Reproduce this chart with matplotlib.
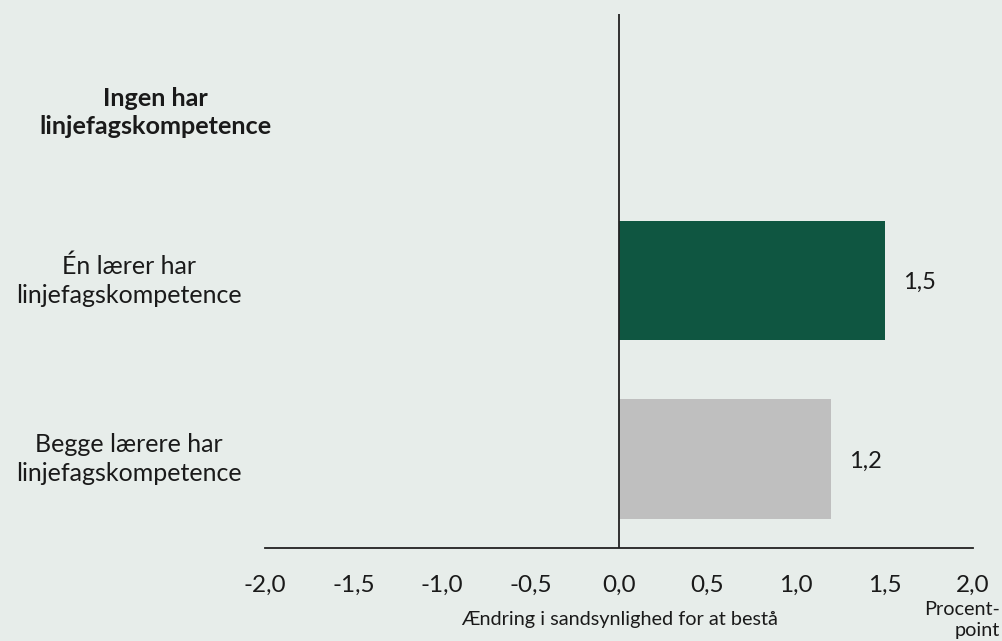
import matplotlib
matplotlib.use("Agg")
import matplotlib.pyplot as plt
from matplotlib.transforms import blended_transform_factory

plt.rcParams['font.family'] = ['Lato', 'DejaVu Sans']

categories = ["Ingen har\nlinjefagskompetence",
              "Én lærer har\nlinjefagskompetence",
              "Begge lærere har\nlinjefagskompetence"]
values = [None, 1.5, 1.2]
value_labels = [None, "1,5", "1,2"]
bold_flags = [True, False, False]
bar_colors = [None, "#0F5641", "#BFBFBF"]
xticks = [-2.0, -1.5, -1.0, -0.5, 0.0, 0.5, 1.0, 1.5, 2.0]
xtick_labels = ["-2,0", "-1,5", "-1,0", "-0,5", "0,0", "0,5", "1,0", "1,5", "2,0"]

bg = "#E7EDEA"
txt = "#1A1A1A"

W, H = 1002, 641
fig = plt.figure(figsize=(W/100, H/100), dpi=100, facecolor=bg)
ax = fig.add_axes([265/W, (H-548)/H, (973-265)/W, (548-13.5)/H], facecolor=bg)

ypos = list(range(len(categories)))
for y, v, c, lab in zip(ypos, values, bar_colors, value_labels):
    if v is None:
        continue
    ax.barh(y, v, height=0.67, color=c, zorder=2)
    ax.annotate(lab, xy=(v, y), xytext=(13, -1.5), textcoords="offset points",
                ha="left", va="center", fontsize=17, color=txt)

ax.set_xlim(-2.0, 2.0)
ax.set_ylim(2.5, -0.5)
ax.set_xticks(xticks)
ax.set_xticklabels(xtick_labels, fontsize=17.5, color=txt)
ax.tick_params(axis="x", length=0, pad=19)
ax.set_yticks([])

for s in ["top", "right", "left"]:
    ax.spines[s].set_visible(False)
ax.spines["bottom"].set_color("#222222")
ax.spines["bottom"].set_linewidth(1.3)
ax.axvline(0, color="#222222", linewidth=1.3, zorder=3)

trans = blended_transform_factory(ax.transAxes, ax.transData)
for y, lab, b in zip(ypos, categories, bold_flags):
    xc = -0.155 if b else -0.192
    yo = 0.055 if b else 0.0
    ax.text(xc, y + yo, lab, transform=trans, ha="center", va="center",
            fontsize=18.2 if b else 18, fontweight="bold" if b else "normal",
            color=txt, linespacing=1.3)

fig.text(619.5/W, 1 - 620/H, "Ændring i sandsynlighed for at bestå",
         ha="center", va="center", fontsize=14.3, color=txt)
fig.text(1000/W, 1 - 620/H, "Procent-\npoint", ha="right", va="center",
         fontsize=14.3, color=txt, linespacing=1.25)

fig.savefig("out.png", dpi=100, facecolor=bg)
